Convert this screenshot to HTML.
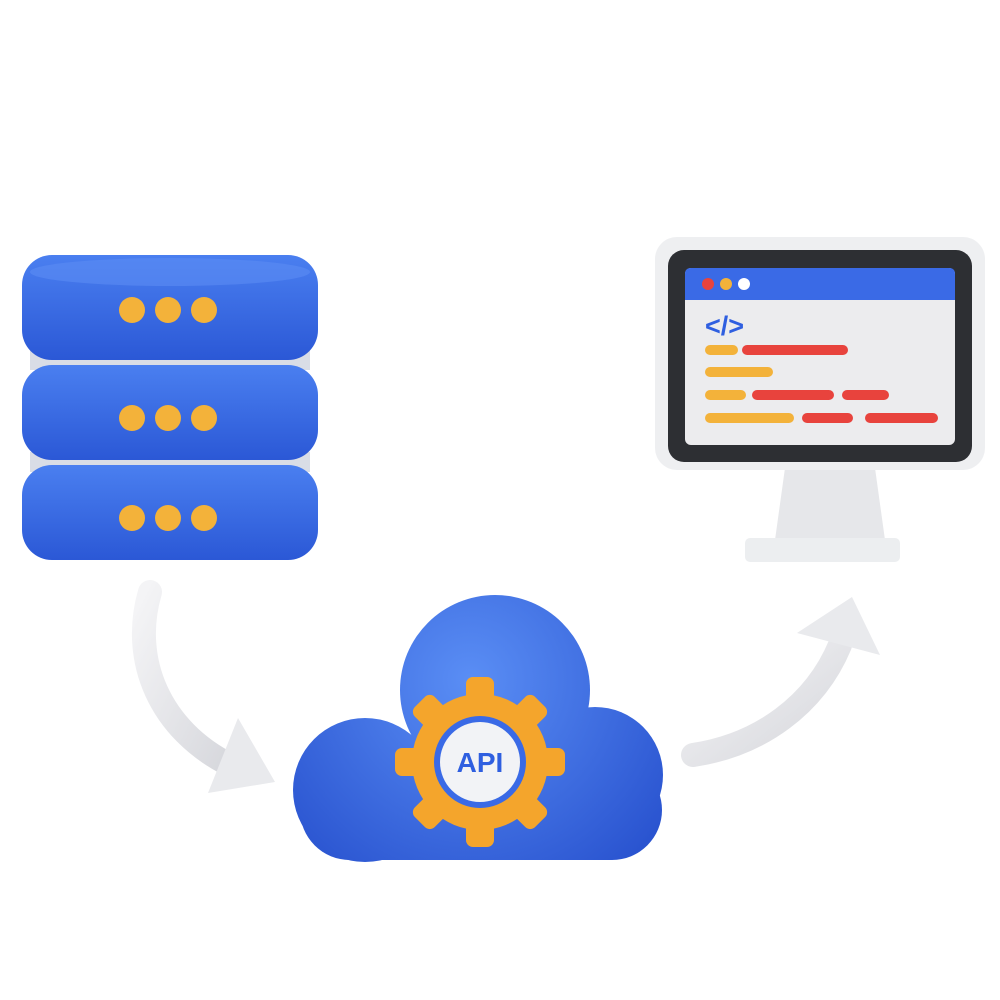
<!DOCTYPE html>
<html><head><meta charset="utf-8"><style>html,body{margin:0;padding:0;background:#fff}svg{display:block}</style></head>
<body>
<svg width="1000" height="1000" viewBox="0 0 1000 1000" xmlns="http://www.w3.org/2000/svg">
<defs>
<linearGradient id="blue" x1="0" y1="0" x2="0" y2="1"><stop offset="0" stop-color="#4a7ff0"/><stop offset="1" stop-color="#2b58d6"/></linearGradient>
<radialGradient id="cloud" gradientUnits="userSpaceOnUse" cx="470" cy="680" r="240"><stop offset="0" stop-color="#5a8ef5"/><stop offset="1" stop-color="#2a54d0"/></radialGradient>
<linearGradient id="arrow" x1="0" y1="0" x2="1" y2="1"><stop offset="0" stop-color="#f4f4f6"/><stop offset="1" stop-color="#d6d7dc"/></linearGradient>
</defs>

<g>
  <rect x="30" y="350" width="280" height="20" fill="#d9dde6"/>
  <rect x="30" y="452" width="280" height="20" fill="#d9dde6"/>
  <rect x="22" y="465" width="296" height="95" rx="30" fill="url(#blue)"/>
  <rect x="22" y="365" width="296" height="95" rx="30" fill="url(#blue)"/>
  <rect x="22" y="255" width="296" height="105" rx="30" fill="url(#blue)"/>
  <ellipse cx="170" cy="272" rx="140" ry="14" fill="#5b8cf4" opacity="0.6"/>
  <g fill="#f3b23a">
    <circle cx="132" cy="310" r="13"/><circle cx="168" cy="310" r="13"/><circle cx="204" cy="310" r="13"/>
    <circle cx="132" cy="418" r="13"/><circle cx="168" cy="418" r="13"/><circle cx="204" cy="418" r="13"/>
    <circle cx="132" cy="518" r="13"/><circle cx="168" cy="518" r="13"/><circle cx="204" cy="518" r="13"/>
  </g>
</g>

<g>
  <path d="M785 468 L875 468 L885 540 L775 540 Z" fill="#e6e7ea"/>
  <rect x="745" y="538" width="155" height="24" rx="5" fill="#eceef0"/>
  <rect x="655" y="237" width="330" height="233" rx="22" fill="#eeeff1"/>
  <rect x="668" y="250" width="304" height="212" rx="16" fill="#2d2f33"/>
  <rect x="685" y="268" width="270" height="177" rx="6" fill="#ececee"/>
  <path d="M691 268 H949 Q955 268 955 274 V300 H685 V274 Q685 268 691 268 Z" fill="#3a6ae6"/>
  <circle cx="708" cy="284" r="6" fill="#e8433d"/>
  <circle cx="726" cy="284" r="6" fill="#f3b23a"/>
  <circle cx="744" cy="284" r="6" fill="#ffffff"/>
  <text x="705" y="335" font-family="Liberation Sans, sans-serif" font-weight="bold" font-size="27" fill="#2f5fe0">&lt;/&gt;</text>
  <g stroke-linecap="round" stroke-width="10">
    <line x1="710" y1="350" x2="733" y2="350" stroke="#f3b23a"/>
    <line x1="747" y1="350" x2="843" y2="350" stroke="#e8433d"/>
    <line x1="710" y1="372" x2="768" y2="372" stroke="#f3b23a"/>
    <line x1="710" y1="395" x2="741" y2="395" stroke="#f3b23a"/>
    <line x1="757" y1="395" x2="829" y2="395" stroke="#e8433d"/>
    <line x1="847" y1="395" x2="884" y2="395" stroke="#e8433d"/>
    <line x1="710" y1="418" x2="789" y2="418" stroke="#f3b23a"/>
    <line x1="807" y1="418" x2="848" y2="418" stroke="#e8433d"/>
    <line x1="870" y1="418" x2="933" y2="418" stroke="#e8433d"/>
  </g>
</g>

<path d="M150 592 C130 660 160 730 230 765" fill="none" stroke="url(#arrow)" stroke-width="24" stroke-linecap="round"/>
<path d="M238 718 L275 782 L208 793 Z" fill="#e9eaed"/>
<path d="M693 755 C760 745 815 705 840 645" fill="none" stroke="url(#arrow)" stroke-width="24" stroke-linecap="round"/>
<path d="M797 633 L852 597 L880 655 Z" fill="#e9eaed"/>

<g fill="url(#cloud)">
  <circle cx="495" cy="690" r="95"/>
  <circle cx="365" cy="790" r="72"/>
  <circle cx="595" cy="775" r="68"/>
  <rect x="300" y="760" width="362" height="100" rx="50"/>
</g>

<g transform="translate(480,762)">
  <g fill="#f4a52c">
    <circle r="68"/>
    <g id="t"><rect x="-14" y="-85" width="28" height="30" rx="7"/></g>
    <use href="#t" transform="rotate(45)"/><use href="#t" transform="rotate(90)"/><use href="#t" transform="rotate(135)"/>
    <use href="#t" transform="rotate(180)"/><use href="#t" transform="rotate(225)"/><use href="#t" transform="rotate(270)"/><use href="#t" transform="rotate(315)"/>
  </g>
  <circle r="46" fill="#3a6ae6"/>
  <circle r="40" fill="#f2f3f6"/>
  <text x="0" y="10" text-anchor="middle" font-family="Liberation Sans, sans-serif" font-weight="bold" font-size="28" fill="#2f5fe0">API</text>
</g>
</svg>
</body></html>
